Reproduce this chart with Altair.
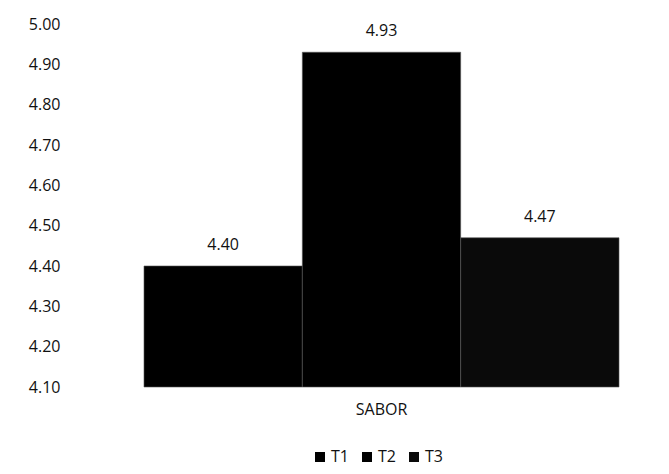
import altair as alt
import pandas as pd

categories = ["SABOR"]
series = ["T1", "T2", "T3"]
values = [4.40, 4.93, 4.47]
y_ticks = [4.1, 4.2, 4.3, 4.4, 4.5, 4.6, 4.7, 4.8, 4.9, 5.0]
base_value = 4.1

df = pd.DataFrame({
    "cat": [categories[0]] * len(series),
    "serie": series,
    "valor": values,
})

FONT = "Open Sans"

x = alt.X("cat:N", title=None,
          scale=alt.Scale(paddingInner=0, paddingOuter=0),
          axis=alt.Axis(domain=False, ticks=False, labelAngle=0, labelPadding=14,
                        labelFontSize=16, labelFont=FONT, labelColor="#111"))
xo = alt.XOffset("serie:N", scale=alt.Scale(paddingInner=0, paddingOuter=0))
y = alt.Y("valor:Q", title=None,
          scale=alt.Scale(domain=[4.1, 5.0], zero=False, nice=False),
          axis=alt.Axis(values=y_ticks, format=".2f", domain=False, ticks=False,
                        grid=False, labelPadding=84, labelFontSize=16,
                        labelFont=FONT, labelColor="#111"))

bars = alt.Chart(df).mark_bar(stroke="#555", strokeWidth=0.6).encode(
    x=x, xOffset=xo, y=y, y2=alt.datum(base_value),
    color=alt.Color("serie:N", scale=alt.Scale(domain=series, range=["#000000", "#000000", "#0a0a0a"]),
                    legend=alt.Legend(title=None, orient="none", direction="horizontal",
                                      legendX=168, legendY=425, symbolType="square",
                                      symbolSize=100, labelFontSize=16, labelFont=FONT,
                                      labelColor="#111", labelOffset=3, columnPadding=10,
                                      symbolStrokeWidth=0)),
)

labels = alt.Chart(df).mark_text(dy=-21, fontSize=16, font=FONT, color="#111").encode(
    x=x, xOffset=xo, y=y, text=alt.Text("valor:Q", format=".2f"),
)

chart = alt.layer(bars, labels).properties(
    width=475, height=363,
    padding={"left": 136, "top": 16, "right": 42, "bottom": 79},
    autosize="none",
    background="white",
).configure_view(strokeWidth=0, stroke="transparent")

chart.save("out.html", embed_options={"renderer": "svg", "actions": False})
